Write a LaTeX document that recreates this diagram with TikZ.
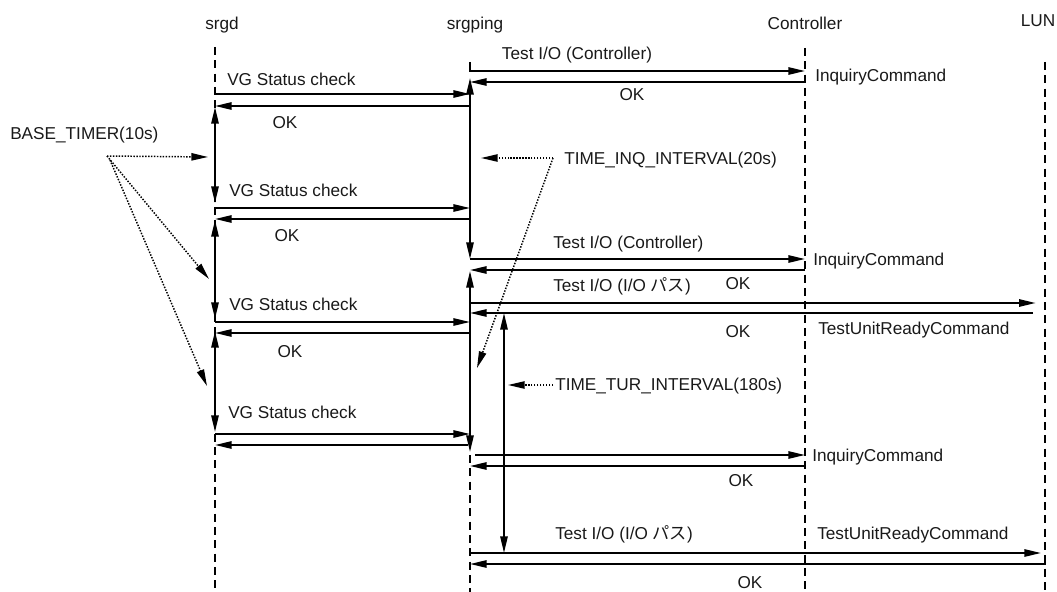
\documentclass[tikz,border=0pt]{standalone}
\usepackage{fontspec}
\setmainfont{Liberation Sans}
\newfontfamily\jp{Noto Sans CJK JP}
\usetikzlibrary{arrows.meta}
\begin{document}
\begin{tikzpicture}[x=0.75pt,y=-0.75pt,
  lifeline/.style={line width=1.4pt, dash pattern=on 6pt off 4pt},
  msgarrow/.style={line width=1.4pt, -{Triangle[length=12.5pt,width=5.5pt]}},
  spanarrow/.style={line width=1.4pt, {Triangle[length=12.5pt,width=5.5pt]}-{Triangle[length=12.5pt,width=5.5pt]}},
  hintarrow/.style={line width=1.1pt, dash pattern=on 1.1pt off 1.1pt, -{Triangle[length=12.5pt,width=5.5pt]}},
  lbl/.style={inner sep=0pt, font=\fontsize{12.9}{15}\selectfont, text=black!90},
]
\useasboundingbox (0,0) rectangle (1057,592);

% lifeline x positions
\coordinate (sd) at (215,0);
\coordinate (sp) at (470,0);
\coordinate (ct) at (805,0);
\coordinate (lu) at (1045,0);
\coordinate (tur) at (504,0);

% headers
\node[lbl, anchor=base] (hsd) at (222,30) {srgd};
\node[lbl, anchor=base] (hsp) at (475,30) {srgping};
\node[lbl, anchor=base] (hct) at (805,30) {Controller};
\node[lbl, anchor=base] (hlu) at (1038,27) {LUN};

% lifelines
\draw[lifeline] (sd |- 0,47) -- (sd |- 0,592);
\draw[lifeline] (ct |- 0,48) -- (ct |- 0,592);
\draw[lifeline] (lu |- 0,62) -- (lu |- 0,592);
\draw[lifeline] (sp |- 0,455) -- (sp |- 0,592);

% interval spans
\draw[spanarrow] (sd |- 0,107) -- (sd |- 0,203);
\draw[spanarrow] (sd |- 0,220) -- (sd |- 0,319);
\draw[spanarrow] (sd |- 0,331) -- (sd |- 0,432);
\draw[spanarrow] (sp |- 0,78) -- (sp |- 0,259);
\draw[spanarrow] (sp |- 0,271) -- (sp |- 0,452);
\draw[spanarrow] (tur |- 0,313) -- (tur |- 0,553);

% messages
\draw[msgarrow] (sp |- 0,62) -- (sp |- 0,71) -- (ct |- 0,71);
\draw[msgarrow] (ct |- 0,82) -- (sp |- 0,82);
\draw[msgarrow] (sd |- 0,94) -- (sp |- 0,94);
\draw[msgarrow] (sp |- 0,106) -- (sd |- 0,106);
\draw[msgarrow] (sd |- 0,208) -- (sp |- 0,208);
\draw[msgarrow] (sp |- 0,219) -- (sd |- 0,219);
\draw[msgarrow] (sp |- 0,259) -- (ct |- 0,259);
\draw[msgarrow] (ct |- 0,270) -- (sp |- 0,270);
\draw[msgarrow, shorten >=7pt] (sp |- 0,303) -- (lu |- 0,303);
\draw[msgarrow, shorten <=9pt] (lu |- 0,313) -- (sp |- 0,313);
\draw[msgarrow] (sd |- 0,322) -- (sp |- 0,322);
\draw[msgarrow] (sp |- 0,333) -- (sd |- 0,333);
\draw[msgarrow] (sd |- 0,434) -- (sp |- 0,434);
\draw[msgarrow, shorten <=1.5pt] (sp |- 0,445) -- (sd |- 0,445);
\draw[msgarrow, shorten <=4pt] (sp |- 0,455) -- (ct |- 0,455);
\draw[msgarrow] (ct |- 0,466) -- (sp |- 0,466);
\draw[msgarrow, shorten >=3pt] (sp |- 0,553) -- (lu |- 0,553);
\draw[msgarrow] (lu |- 0,558) -- (lu |- 0,564) -- (sp |- 0,564);

% timer hints
\coordinate (bt) at (107,156);
\coordinate (bt2) at (110,160);
\coordinate (ti) at (553,158);
\coordinate (tt) at (553,385);
\coordinate (bta) at (208,157);
\coordinate (btb) at (209,279);
\coordinate (btc) at (207,386);
\coordinate (tia) at (481,158);
\coordinate (tib) at (477,368);
\coordinate (tta) at (508,385);
\draw[hintarrow] (bt) -- (bta);
\draw[hintarrow] (bt) -- (btb);
\draw[hintarrow] (bt2) -- (btc);
\draw[hintarrow] (ti) -- (tia);
\draw[hintarrow] (ti) -- (tib);
\draw[hintarrow] (tt) -- (tta);

% labels
\node[lbl, anchor=base] (l1) at (577,60) {Test I/O (Controller)};
\node[lbl, anchor=base west] (l2) at (815,82) {InquiryCommand};
\node[lbl, anchor=base] (l3) at (632,101) {OK};
\node[lbl, anchor=base west] (l4) at (227,85) {VG Status check};
\node[lbl, anchor=base] (l5) at (285,128) {OK};
\node[lbl, anchor=base west] (l6) at (10,139) {BASE\_TIMER(10s)};
\node[lbl, anchor=base west] (l7) at (564,164) {TIME\_INQ\_INTERVAL(20s)};
\node[lbl, anchor=base west] (l8) at (229,196) {VG Status check};
\node[lbl, anchor=base] (l9) at (287,241) {OK};
\node[lbl, anchor=base west] (l10) at (553,248) {Test I/O (Controller)};
\node[lbl, anchor=base west] (l11) at (813,265) {InquiryCommand};
\node[lbl, anchor=base] (l12) at (738,289) {OK};
\node[lbl, anchor=base west] (l13) at (553,291) {Test I/O (I/O {\jp パス})};
\node[lbl, anchor=base west] (l14) at (229,310) {VG Status check};
\node[lbl, anchor=base] (l15) at (738,337) {OK};
\node[lbl, anchor=base west] (l16) at (818,334) {TestUnitReadyCommand};
\node[lbl, anchor=base] (l17) at (290,357) {OK};
\node[lbl, anchor=base west] (l18) at (555,390) {TIME\_TUR\_INTERVAL(180s)};
\node[lbl, anchor=base west] (l19) at (228,418) {VG Status check};
\node[lbl, anchor=base west] (l20) at (812,461) {InquiryCommand};
\node[lbl, anchor=base] (l21) at (741,486) {OK};
\node[lbl, anchor=base west] (l22) at (555,539) {Test I/O (I/O {\jp パス})};
\node[lbl, anchor=base west] (l23) at (817,539) {TestUnitReadyCommand};
\node[lbl, anchor=base] (l24) at (750,588) {OK};
\end{tikzpicture}
\end{document}
